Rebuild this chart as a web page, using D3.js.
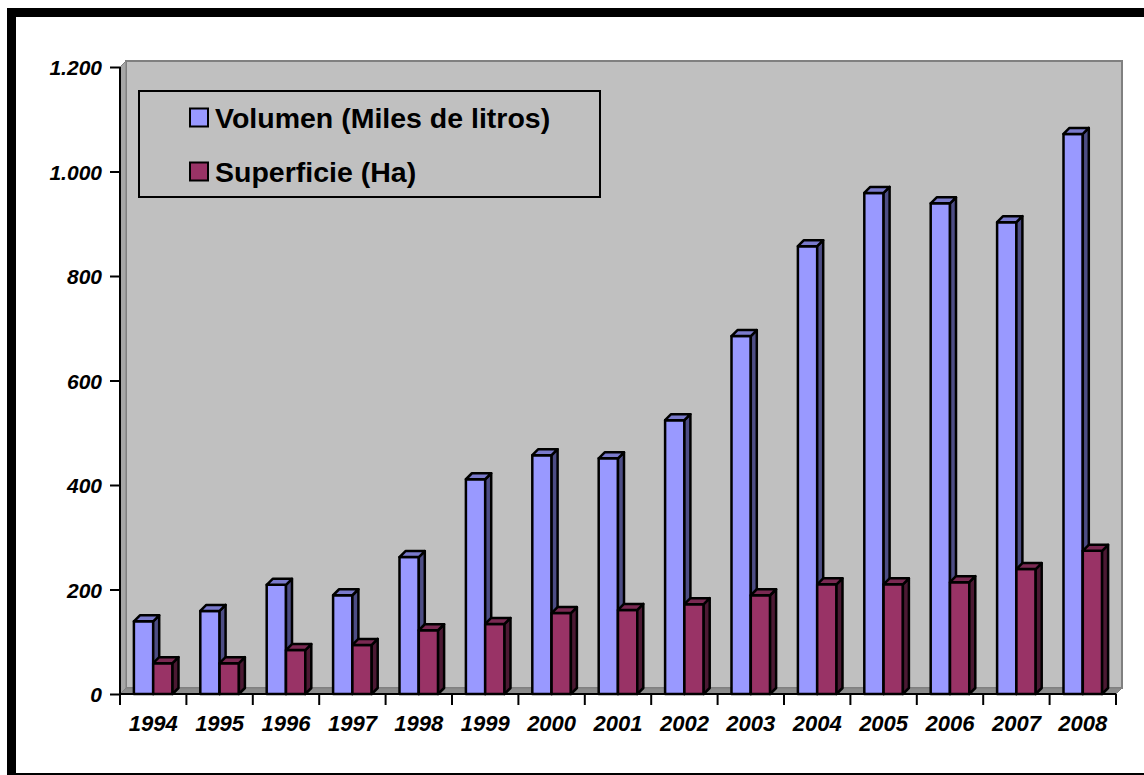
<!DOCTYPE html>
<meta charset="utf-8">
<script src="https://d3js.org/d3.v7.min.js"></script>
<style>
    body { margin: 0; background-color: white; }
    svg { display: block; }
    text { font-family: "Liberation Sans", Arial, sans-serif; }
</style>
<body>
<script>
    // data
    var years = ["1994", "1995", "1996", "1997", "1998", "1999", "2000", "2001",
        "2002", "2003", "2004", "2005", "2006", "2007", "2008"];
    var volumen = [139, 159, 209, 189, 262, 411, 457, 451, 524, 685, 857, 959, 939, 903, 1072];
    var superficie = [59, 59, 84, 94, 122, 134, 155, 161, 172, 189, 210, 210, 214, 239, 274];
    var yTicks = [0, 200, 400, 600, 800, 1000, 1200];
    var seriesNames = ["Volumen (Miles de litros)", "Superficie (Ha)"];

    var width = 1144, height = 775;
    var plotLeft = 120, plotRight = 1116, plotTop = 67, plotBottom = 694;
    var dx = 6, dy = 6; // 3d depth

    // colours: front, side, top
    var colors = [
        { front: "#9999ff", side: "#4d4d85", top: "#7a7acc" },
        { front: "#993366", side: "#4c1933", top: "#7a2952" }
    ];

    var es = d3.formatLocale({ decimal: ",", thousands: ".", grouping: [3], currency: ["", ""] });
    var fmt = es.format(",d");

    var svg = d3.select("body").append("svg")
        .attr("width", width)
        .attr("height", height);

    // frame
    svg.append("rect").attr("x", 0).attr("y", 0).attr("width", width).attr("height", height).attr("fill", "white");
    svg.append("rect").attr("x", 7).attr("y", 8).attr("width", 9).attr("height", height - 8).attr("fill", "black");
    svg.append("rect").attr("x", 7).attr("y", 8).attr("width", width - 7).attr("height", 9).attr("fill", "black");
    svg.append("rect").attr("x", 7).attr("y", 773).attr("width", width - 7).attr("height", 2).attr("fill", "black");

    var x = d3.scaleBand().domain(years).range([plotLeft, plotRight]).padding(0);
    var x1 = d3.scaleBand().domain([0, 1]).range([0, x.bandwidth()]).paddingInner(0).paddingOuter(0.72);
    var y = d3.scaleLinear().domain([0, 1200]).range([plotBottom, plotTop]);

    // walls
    svg.append("polygon")
        .attr("points", [[plotLeft + dx, plotTop - dy], [plotRight + dx, plotTop - dy], [plotRight + dx, plotBottom - dy], [plotLeft + dx, plotBottom - dy]].join(" "))
        .attr("fill", "#c0c0c0").attr("stroke", "#808080").attr("stroke-width", 2);
    svg.append("polygon")
        .attr("points", [[plotLeft, plotTop], [plotLeft + dx, plotTop - dy], [plotLeft + dx, plotBottom - dy], [plotLeft, plotBottom]].join(" "))
        .attr("fill", "#a6a6a6").attr("stroke", "#808080").attr("stroke-width", 1);
    svg.append("polygon")
        .attr("points", [[plotLeft, plotBottom], [plotLeft + dx, plotBottom - dy], [plotRight + dx, plotBottom - dy], [plotRight, plotBottom]].join(" "))
        .attr("fill", "#8c8c8c").attr("stroke", "#808080").attr("stroke-width", 1);

    // legend box sits on the back wall
    var legend = svg.append("g");
    legend.append("rect")
        .attr("x", 139).attr("y", 91).attr("width", 461).attr("height", 106)
        .attr("fill", "none").attr("stroke", "black").attr("stroke-width", 2);
    seriesNames.forEach(function (name, i) {
        var ly = 127.5 + i * 54;
        legend.append("rect")
            .attr("x", 190).attr("y", ly - 19).attr("width", 18).attr("height", 18)
            .attr("fill", colors[i].front).attr("stroke", "black").attr("stroke-width", 2);
        legend.append("text")
            .attr("x", 215).attr("y", ly)
            .style("font-size", "28.5px").style("font-weight", "bold")
            .text(name);
    });

    // bars
    var bars = [];
    years.forEach(function (yr, i) {
        bars.push({ year: yr, s: 0, v: volumen[i] });
        bars.push({ year: yr, s: 1, v: superficie[i] });
    });

    var g = svg.selectAll("g.bar")
        .data(bars)
        .enter().append("g")
        .attr("class", "bar");

    function pts(a) { return a.map(function (p) { return p.join(","); }).join(" "); }

    g.each(function (d) {
        var x0 = x(d.year) + x1(d.s), xr = x0 + x1.bandwidth();
        var yt = y(d.v), yb = y(0);
        var el = d3.select(this);
        el.append("polygon")
            .attr("points", pts([[x0, yt], [xr, yt], [xr, yb], [x0, yb]]))
            .attr("fill", colors[d.s].front);
        el.append("polygon")
            .attr("points", pts([[xr, yt], [xr + dx, yt - dy], [xr + dx, yb - dy], [xr, yb]]))
            .attr("fill", colors[d.s].side);
        el.append("polygon")
            .attr("points", pts([[x0, yt], [x0 + dx, yt - dy], [xr + dx, yt - dy], [xr, yt]]))
            .attr("fill", colors[d.s].top);
        el.selectAll("polygon")
            .attr("stroke", "black").attr("stroke-width", 2.5).attr("stroke-linejoin", "round");
    });

    // axes
    var yAxis = svg.append("g")
        .attr("transform", "translate(" + plotLeft + ",0)")
        .call(d3.axisLeft(y).tickValues(yTicks).tickFormat(fmt).tickSize(10).tickPadding(8));
    var xAxis = svg.append("g")
        .attr("transform", "translate(0," + plotBottom + ")")
        .call(d3.axisBottom(x).tickSize(0));

    // ticks on the x axis sit between the years
    xAxis.selectAll(".sep")
        .data(years.concat(["end"]))
        .enter().append("line")
        .attr("x1", function (d, i) { return plotLeft + i * x.bandwidth(); })
        .attr("x2", function (d, i) { return plotLeft + i * x.bandwidth(); })
        .attr("y1", 0).attr("y2", 11)
        .attr("stroke", "black").attr("stroke-width", 2);

    svg.selectAll(".domain").attr("stroke", "black").attr("stroke-width", 2);
    yAxis.selectAll(".tick line").attr("stroke", "black").attr("stroke-width", 2);
    yAxis.select(".domain").attr("d", "M0," + plotTop + "V" + plotBottom);
    xAxis.select(".domain").attr("d", "M" + plotLeft + ",0H" + plotRight);
    svg.selectAll(".tick text")
        .attr("fill", "black")
        .style("font-weight", "bold")
        .style("font-style", "italic");
    yAxis.selectAll(".tick text").style("font-size", "21px").attr("dy", "0.36em");
    xAxis.selectAll(".tick text").style("font-size", "22px").attr("dy", "0").attr("y", 37);
</script>
</body>
